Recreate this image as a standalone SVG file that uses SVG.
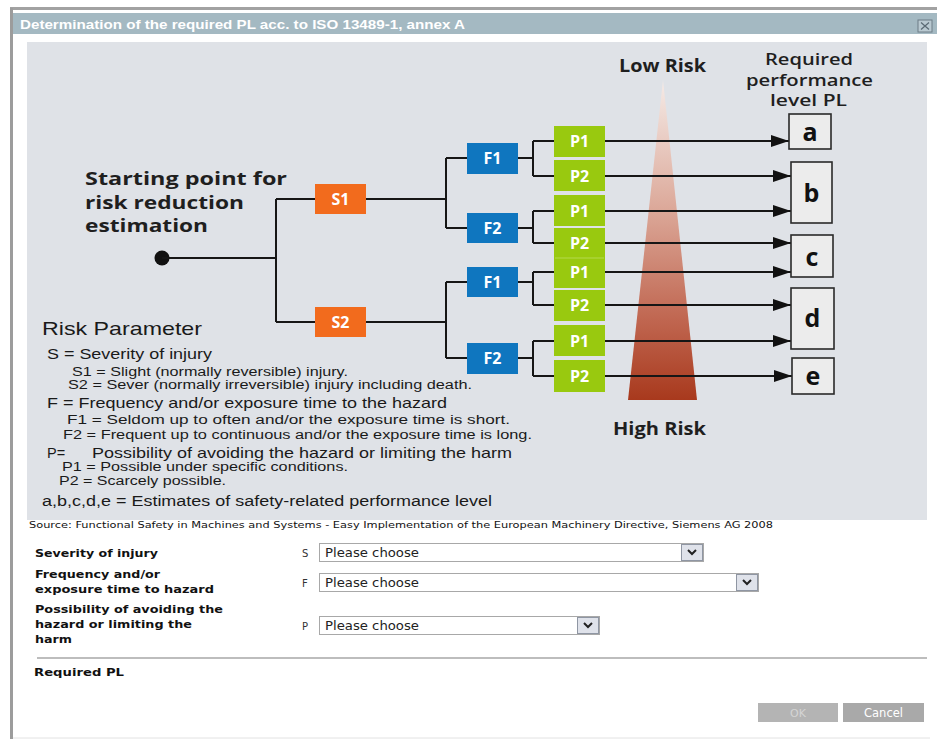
<svg xmlns="http://www.w3.org/2000/svg" width="937" height="739" viewBox="0 0 937 739">
<defs>
<style>
.t{font-family:"Liberation Sans",Arial,sans-serif;fill:#1a1a1a}
.d{font-family:"DejaVu Sans",Verdana,sans-serif;fill:#111}
.o{font-family:"Open Sans","Noto Sans",sans-serif;font-weight:700;fill:#1f1f1f}
.bx{font-family:"Open Sans","Noto Sans",sans-serif;font-weight:700;fill:#fff;font-size:16px;text-anchor:middle}
.pl{fill:#ececec;stroke:#2a2a2a;stroke-width:1.6}
.plt{font-family:"Open Sans","Noto Sans",sans-serif;font-weight:700;fill:#111;font-size:25px;text-anchor:middle}
.c{stroke:#161616;stroke-width:2;fill:none}
.s{fill:#f26b1d}
.f{fill:#0f76bf}
.p{fill:#99c90f}
.dd{fill:#fff;stroke:#a8a8a8;stroke-width:1}
.db{fill:#dfe2ea;stroke:#8f96a3;stroke-width:1}
.chev{fill:none;stroke:#222;stroke-width:2}
.lbl{font-family:"DejaVu Sans",Verdana,sans-serif;font-weight:700;font-size:11.3px;fill:#111}
.sm{font-family:"DejaVu Sans",Verdana,sans-serif;font-size:10px;fill:#333}
</style>
<linearGradient id="risk" x1="0" y1="0" x2="0" y2="1">
<stop offset="0" stop-color="#f5ebe7"/>
<stop offset="0.4" stop-color="#dca99a"/>
<stop offset="0.75" stop-color="#c06650"/>
<stop offset="1" stop-color="#a8391d"/>
</linearGradient>
<marker id="ah" markerUnits="userSpaceOnUse" markerWidth="18" markerHeight="12" refX="18" refY="6" orient="auto">
<path d="M0,0 L18,6 L0,12 z" fill="#111"/>
</marker>
</defs>

<rect x="0" y="0" width="937" height="739" fill="#fff"/>
<!-- window frame -->
<g id="frame">
<rect x="10" y="7" width="927" height="3" fill="#a2a2a2"/>
<rect x="10" y="8" width="3" height="731" fill="#9c9c9c"/>
<rect x="13" y="13" width="924" height="21" fill="#a4b9c2"/>
<text x="20" y="29" font-family="Liberation Sans,Arial,sans-serif" font-weight="700" font-size="13" fill="#fff" textLength="445" lengthAdjust="spacingAndGlyphs">Determination of the required PL acc. to ISO 13489-1, annex A</text>
<rect x="918" y="20" width="14" height="12" fill="#b9c9d1" stroke="#6c7c86" stroke-width="1"/>
<path d="M921,22.5 L929,29.5 M929,22.5 L921,29.5" stroke="#5a6a74" stroke-width="1.2"/>
</g>

<rect id="panel" x="27" y="42" width="900" height="478" fill="#dfe2e7"/>

<!-- risk triangle -->
<g id="risk-triangle">
<polygon points="663,80 697,400 628,400" fill="url(#risk)"/>
<text class="o" x="619" y="72" font-size="17" textLength="87" lengthAdjust="spacingAndGlyphs">Low Risk</text>
<text class="o" x="613" y="435" font-size="17" textLength="93" lengthAdjust="spacingAndGlyphs">High Risk</text>
</g>

<g id="pl-title">
<text class="o" x="765" y="65" font-size="16" style="font-weight:600" textLength="88" lengthAdjust="spacingAndGlyphs">Required</text>
<text class="o" x="746" y="86" font-size="16" style="font-weight:600" textLength="127" lengthAdjust="spacingAndGlyphs">performance</text>
<text class="o" x="770" y="106" font-size="16" style="font-weight:600" textLength="77" lengthAdjust="spacingAndGlyphs">level PL</text>
</g>

<g id="start">
<text class="o" x="85" y="185" font-size="18" textLength="202" lengthAdjust="spacingAndGlyphs">Starting point for</text>
<text class="o" x="85" y="209" font-size="18" textLength="159" lengthAdjust="spacingAndGlyphs">risk reduction</text>
<text class="o" x="85" y="232" font-size="18" textLength="123" lengthAdjust="spacingAndGlyphs">estimation</text>
<circle cx="162" cy="258" r="7.5" fill="#111"/>
</g>

<!-- connectors -->
<g id="connectors">
<path class="c" d="M162,258 H276 M276,199 V322 M276,199 H315 M276,322 H315"/>
<path class="c" d="M366,199 H446 M446,158 V228 M446,158 H467 M446,228 H467"/>
<path class="c" d="M366,322 H446 M446,282 V358 M446,282 H467 M446,358 H467"/>
<path class="c" d="M518,158 H533 M533,141 V176 M533,141 H554 M533,176 H554"/>
<path class="c" d="M518,228 H533 M533,211 V243 M533,211 H554 M533,243 H554"/>
<path class="c" d="M518,282 H533 M533,272 V305 M533,272 H554 M533,305 H554"/>
<path class="c" d="M518,358 H533 M533,341 V376 M533,341 H554 M533,376 H554"/>
<line class="c" x1="605" y1="141" x2="789" y2="141" marker-end="url(#ah)"/>
<line class="c" x1="605" y1="176" x2="791" y2="176" marker-end="url(#ah)"/>
<line class="c" x1="605" y1="211" x2="791" y2="211" marker-end="url(#ah)"/>
<line class="c" x1="605" y1="243" x2="791" y2="243" marker-end="url(#ah)"/>
<line class="c" x1="605" y1="272" x2="791" y2="272" marker-end="url(#ah)"/>
<line class="c" x1="605" y1="305" x2="791" y2="305" marker-end="url(#ah)"/>
<line class="c" x1="605" y1="341" x2="791" y2="341" marker-end="url(#ah)"/>
<line class="c" x1="605" y1="376" x2="792" y2="376" marker-end="url(#ah)"/>
</g>

<!-- S nodes -->
<g id="S1"><rect class="s" x="315" y="184" width="51" height="30"/><text class="bx" x="340.5" y="205">S1</text></g>
<g id="S2"><rect class="s" x="315" y="307" width="51" height="30"/><text class="bx" x="340.5" y="328">S2</text></g>

<!-- F nodes -->
<g id="F1a"><rect class="f" x="467" y="143" width="51" height="31"/><text class="bx" x="492.5" y="164">F1</text></g>
<g id="F2a"><rect class="f" x="467" y="213" width="51" height="30"/><text class="bx" x="492.5" y="234">F2</text></g>
<g id="F1b"><rect class="f" x="467" y="267" width="51" height="30"/><text class="bx" x="492.5" y="288">F1</text></g>
<g id="F2b"><rect class="f" x="467" y="343" width="51" height="31"/><text class="bx" x="492.5" y="364">F2</text></g>

<!-- P nodes -->
<g id="P1a"><rect class="p" x="554" y="126" width="51" height="31"/><text class="bx" x="579.5" y="147">P1</text></g>
<g id="P2a"><rect class="p" x="554" y="160" width="51" height="31"/><text class="bx" x="579.5" y="182">P2</text></g>
<g id="P1b"><rect class="p" x="554" y="195" width="51" height="31"/><text class="bx" x="579.5" y="217">P1</text></g>
<g id="P2b"><rect class="p" x="554" y="228" width="51" height="30"/><text class="bx" x="579.5" y="249">P2</text></g>
<g id="P1c"><rect class="p" x="554" y="258" width="51" height="30"/><text class="bx" x="579.5" y="278">P1</text></g>
<g id="P2c"><rect class="p" x="554" y="290" width="51" height="31"/><text class="bx" x="579.5" y="311">P2</text></g>
<g id="P1d"><rect class="p" x="554" y="325" width="51" height="31"/><text class="bx" x="579.5" y="347">P1</text></g>
<g id="P2d"><rect class="p" x="554" y="360" width="51" height="32"/><text class="bx" x="579.5" y="382">P2</text></g>
<line x1="555" y1="258" x2="604" y2="258" stroke="#b5d94f" stroke-width="1"/>

<!-- PL boxes -->
<g id="PLa"><rect class="pl" x="789" y="114" width="42" height="35"/><text class="plt" x="810" y="141">a</text></g>
<g id="PLb"><rect class="pl" x="791" y="162" width="41" height="61"/><text class="plt" x="811.5" y="202">b</text></g>
<g id="PLc"><rect class="pl" x="791" y="235" width="42" height="42"/><text class="plt" x="812" y="266">c</text></g>
<g id="PLd"><rect class="pl" x="791" y="288" width="43" height="61"/><text class="plt" x="812.5" y="327">d</text></g>
<g id="PLe"><rect class="pl" x="792" y="358" width="42" height="36"/><text class="plt" x="813" y="385">e</text></g>

<!-- legend -->
<g id="legend">
<text class="t" x="42" y="335" font-size="19" textLength="160" lengthAdjust="spacingAndGlyphs">Risk Parameter</text>
<text class="t" x="47" y="359" font-size="14.5" textLength="165" lengthAdjust="spacingAndGlyphs">S = Severity of injury</text>
<text class="t" x="72" y="376" font-size="12.5" textLength="276" lengthAdjust="spacingAndGlyphs">S1 = Slight (normally reversible) injury.</text>
<text class="t" x="68" y="389" font-size="12.5" textLength="404" lengthAdjust="spacingAndGlyphs">S2 = Sever (normally irreversible) injury including death.</text>
<text class="t" x="47" y="408" font-size="14.5" textLength="400" lengthAdjust="spacingAndGlyphs">F = Frequency and/or exposure time to the hazard</text>
<text class="t" x="67" y="424" font-size="12.5" textLength="443" lengthAdjust="spacingAndGlyphs">F1 = Seldom up to often and/or the exposure time is short.</text>
<text class="t" x="63" y="439" font-size="12.5" textLength="469" lengthAdjust="spacingAndGlyphs">F2 = Frequent up to continuous and/or the exposure time is long.</text>
<text class="t" x="47" y="458" font-size="14.5">P=</text>
<text class="t" x="92" y="458" font-size="14.5" textLength="420" lengthAdjust="spacingAndGlyphs">Possibility of avoiding the hazard or limiting the harm</text>
<text class="t" x="62" y="471" font-size="12.5" textLength="286" lengthAdjust="spacingAndGlyphs">P1 = Possible under specific conditions.</text>
<text class="t" x="59" y="485" font-size="12.5" textLength="167" lengthAdjust="spacingAndGlyphs">P2 = Scarcely possible.</text>
<text class="t" x="42" y="506" font-size="15.5" textLength="450" lengthAdjust="spacingAndGlyphs">a,b,c,d,e = Estimates of safety-related performance level</text>
</g>

<text class="d" x="29" y="528" font-size="9.5" textLength="744" lengthAdjust="spacingAndGlyphs">Source: Functional Safety in Machines and Systems - Easy Implementation of the European Machinery Directive, Siemens AG 2008</text>

<!-- form -->
<g id="form-severity">
<text class="lbl" x="35" y="557" textLength="123" lengthAdjust="spacingAndGlyphs">Severity of injury</text>
<text class="sm" x="302" y="557">S</text>
<rect class="dd" x="319.5" y="543.5" width="384" height="18"/>
<text class="d" x="325" y="557" font-size="11.5" style="fill:#222" textLength="94" lengthAdjust="spacingAndGlyphs">Please choose</text>
<rect class="db" x="681.5" y="544.5" width="21" height="16"/>
<path class="chev" d="M688,550 L692,554 L696,550"/>
</g>
<g id="form-frequency">
<text class="lbl" x="35" y="578" textLength="125" lengthAdjust="spacingAndGlyphs">Frequency and/or</text>
<text class="lbl" x="35" y="593" textLength="179" lengthAdjust="spacingAndGlyphs">exposure time to hazard</text>
<text class="sm" x="302" y="587">F</text>
<rect class="dd" x="319.5" y="573.5" width="439" height="18"/>
<text class="d" x="325" y="587" font-size="11.5" style="fill:#222" textLength="94" lengthAdjust="spacingAndGlyphs">Please choose</text>
<rect class="db" x="736.5" y="574.5" width="21" height="16"/>
<path class="chev" d="M743,580 L747,584 L751,580"/>
</g>
<g id="form-possibility">
<text class="lbl" x="35" y="613" textLength="188" lengthAdjust="spacingAndGlyphs">Possibility of avoiding the</text>
<text class="lbl" x="35" y="628" textLength="157" lengthAdjust="spacingAndGlyphs">hazard or limiting the</text>
<text class="lbl" x="35" y="643" textLength="37" lengthAdjust="spacingAndGlyphs">harm</text>
<text class="sm" x="302" y="630">P</text>
<rect class="dd" x="319.5" y="616.5" width="280" height="18"/>
<text class="d" x="325" y="630" font-size="11.5" style="fill:#222" textLength="94" lengthAdjust="spacingAndGlyphs">Please choose</text>
<rect class="db" x="577.5" y="617.5" width="21" height="16"/>
<path class="chev" d="M584,623 L588,627 L592,623"/>
</g>
<line x1="37" y1="658" x2="927" y2="658" stroke="#bdbdbd" stroke-width="2"/>
<g id="form-result">
<text class="lbl" x="34" y="676" textLength="90" lengthAdjust="spacingAndGlyphs">Required PL</text>
</g>
<g id="btn-ok">
<rect x="758" y="703" width="80" height="19" fill="#b4b4b4"/>
<text class="d" x="798" y="717" font-size="11" style="fill:#d4d4d4" text-anchor="middle">OK</text>
</g>
<g id="btn-cancel">
<rect x="843" y="703" width="81" height="19" fill="#a9a9a9"/>
<text class="d" x="883.5" y="717" font-size="11.5" style="fill:#ffffff" text-anchor="middle">Cancel</text>
</g>
<line x1="13" y1="738" x2="930" y2="738" stroke="#e2e2e2" stroke-width="1"/>
</svg>
